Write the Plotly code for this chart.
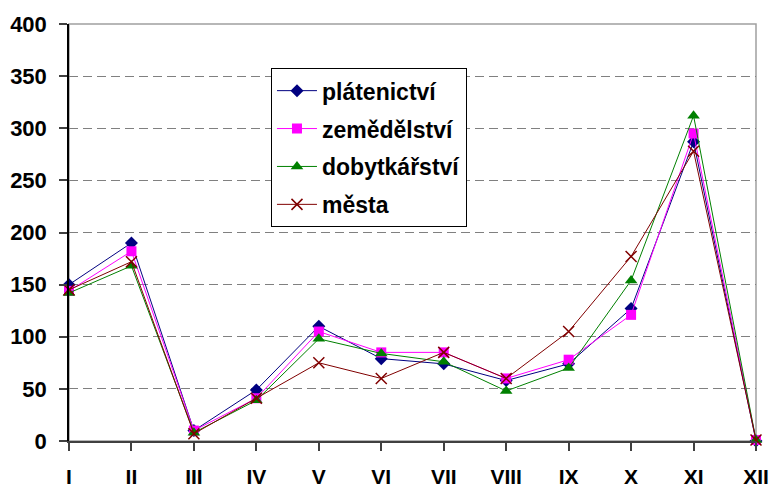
import plotly.graph_objects as go

months = ["I", "II", "III", "IV", "V", "VI", "VII", "VIII", "IX", "X", "XI", "XII"]
platenictvi = [150, 190, 10, 49, 110, 79, 74, 58, 74, 127, 287, 0]
zemedelstvi = [144, 182, 10, 41, 105, 85, 85, 60, 78, 121, 295, 1]
dobytkarstvi = [142, 168, 8, 39, 98, 84, 76, 48, 70, 154, 312, 1]
mesta = [145, 172, 7, 41, 75, 60, 85, 60, 105, 177, 278, 1]
y_ticks = [0, 50, 100, 150, 200, 250, 300, 350, 400]

x_idx = list(range(len(months)))

series = [
    ("plátenictví", platenictvi, "#000080", dict(symbol="diamond", size=10, color="#000080")),
    ("zemědělství", zemedelstvi, "#FF00FF", dict(symbol="square", size=10, color="#FF00FF")),
    ("dobytkářství", dobytkarstvi, "#008000", dict(symbol="triangle-up", size=11, color="#008000")),
    ("města", mesta, "#800000", dict(symbol="x-thin", size=11, color="#800000",
                                    line=dict(color="#800000", width=1.5))),
]

fig = go.Figure()
for i, (name, vals, col, mk) in enumerate(series):
    fig.add_trace(go.Scatter(
        x=x_idx, y=vals, name=name, mode="lines+markers",
        line=dict(color=col, width=1), marker=mk, legendgroup=f"g{i}",
        cliponaxis=False,
    ))

fig.add_shape(type="rect", xref="paper", yref="paper", x0=0, y0=0, x1=1, y1=1,
              line=dict(color="#A0A0A0", width=1.5), layer="below")

fig.update_layout(
    width=772, height=489,
    margin=dict(l=69, r=16, t=24, b=48, autoexpand=False),
    paper_bgcolor="white", plot_bgcolor="white",
    font=dict(family="Liberation Sans, Arial, sans-serif", color="black"),
    showlegend=True,
    legend=dict(
        x=0.294, y=0.894, xanchor="left", yanchor="top",
        bordercolor="black", borderwidth=1, bgcolor="white",
        font=dict(size=23, family="Liberation Sans, Arial, sans-serif", weight="bold"),
        tracegroupgap=5, itemwidth=40,
    ),
    xaxis=dict(
        range=[0, 11], tickvals=x_idx, ticktext=months,
        showgrid=False, zeroline=False, automargin=False,
        showline=True, linecolor="#404040", linewidth=1.5,
        ticks="outside", ticklen=8, tickcolor="#404040", tickwidth=1.5,
        ticklabelstandoff=8,
        tickfont=dict(size=21, weight="bold"),
    ),
    yaxis=dict(
        range=[0, 400], tickvals=y_ticks,
        showgrid=True, gridcolor="#808080", gridwidth=1.2, griddash="9px,5px",
        zeroline=False, automargin=False,
        showline=True, linecolor="black", linewidth=1.5,
        ticks="outside", ticklen=8, tickcolor="#404040", tickwidth=1.5,
        ticklabelstandoff=8,
        tickfont=dict(size=22, weight="bold"),
    ),
)

fig.write_html("out.html", config={"displayModeBar": False},
               post_script="document.body.style.margin='0';document.body.style.overflow='hidden';")
